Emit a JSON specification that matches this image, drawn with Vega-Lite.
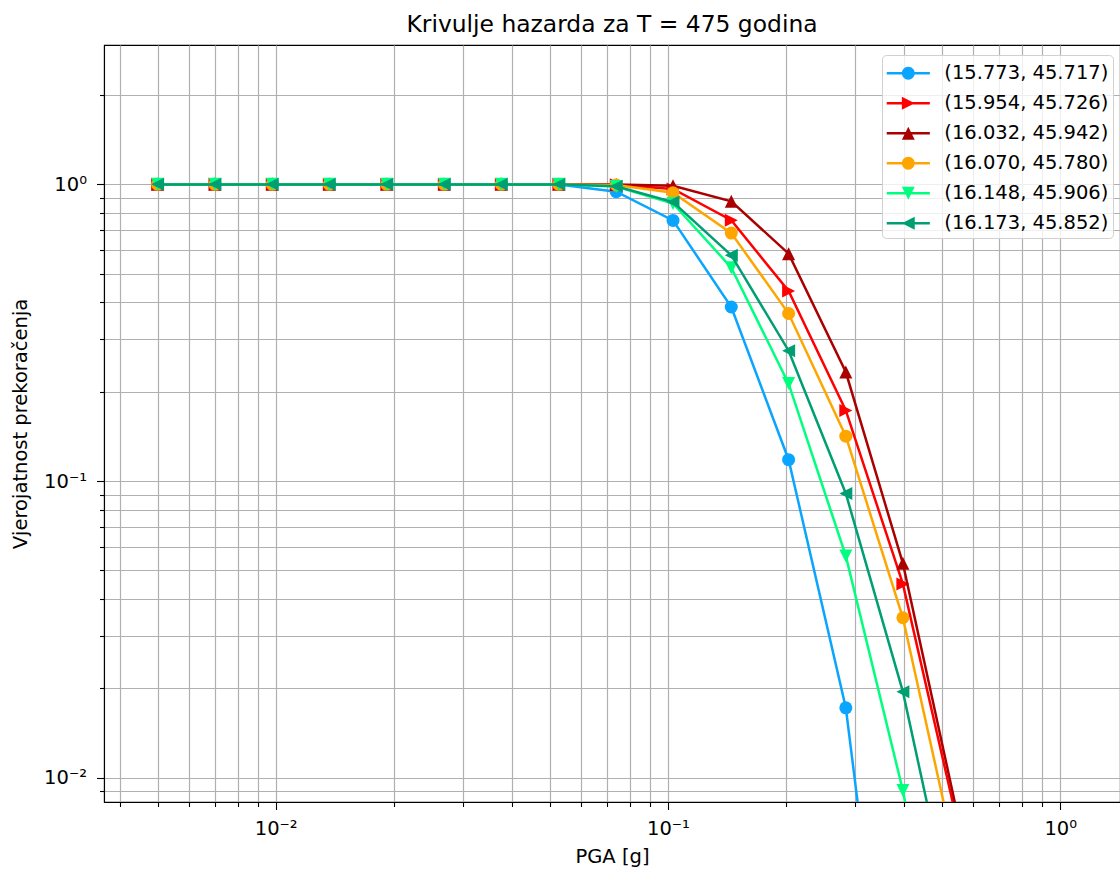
{
  "$schema": "https://vega.github.io/schema/vega-lite/v6.json",
  "width": 1016,
  "height": 757,
  "autosize": {"type": "none"},
  "padding": {"left": 104, "top": 45, "right": 0, "bottom": 69},
  "background": "white",
  "config": {"view": {"stroke": "black", "strokeWidth": 1.1}, "font": "DejaVu Sans"},
  "title": {"text": "Krivulje hazarda za T = 475 godina", "font": "DejaVu Sans", "fontSize": 23.4, "fontWeight": "normal", "color": "black", "anchor": "middle", "offset": 8},
  "data": {"values": [
    {"site": "(15.773, 45.717)", "pga": 0.005, "poe": 1}, {"site": "(15.773, 45.717)", "pga": 0.007, "poe": 1}, {"site": "(15.773, 45.717)", "pga": 0.0098, "poe": 1}, {"site": "(15.773, 45.717)", "pga": 0.0137, "poe": 1}, {"site": "(15.773, 45.717)", "pga": 0.0192, "poe": 1}, {"site": "(15.773, 45.717)", "pga": 0.0269, "poe": 1}, {"site": "(15.773, 45.717)", "pga": 0.0376, "poe": 1}, {"site": "(15.773, 45.717)", "pga": 0.0527, "poe": 0.999}, {"site": "(15.773, 45.717)", "pga": 0.0738, "poe": 0.945}, {"site": "(15.773, 45.717)", "pga": 0.103, "poe": 0.756}, {"site": "(15.773, 45.717)", "pga": 0.145, "poe": 0.386}, {"site": "(15.773, 45.717)", "pga": 0.203, "poe": 0.118}, {"site": "(15.773, 45.717)", "pga": 0.284, "poe": 0.0172}, {"site": "(15.773, 45.717)", "pga": 0.397, "poe": 0.0005},
    {"site": "(15.954, 45.726)", "pga": 0.005, "poe": 1}, {"site": "(15.954, 45.726)", "pga": 0.007, "poe": 1}, {"site": "(15.954, 45.726)", "pga": 0.0098, "poe": 1}, {"site": "(15.954, 45.726)", "pga": 0.0137, "poe": 1}, {"site": "(15.954, 45.726)", "pga": 0.0192, "poe": 1}, {"site": "(15.954, 45.726)", "pga": 0.0269, "poe": 1}, {"site": "(15.954, 45.726)", "pga": 0.0376, "poe": 1}, {"site": "(15.954, 45.726)", "pga": 0.0527, "poe": 1}, {"site": "(15.954, 45.726)", "pga": 0.0738, "poe": 0.998}, {"site": "(15.954, 45.726)", "pga": 0.103, "poe": 0.965}, {"site": "(15.954, 45.726)", "pga": 0.145, "poe": 0.757}, {"site": "(15.954, 45.726)", "pga": 0.203, "poe": 0.437}, {"site": "(15.954, 45.726)", "pga": 0.284, "poe": 0.173}, {"site": "(15.954, 45.726)", "pga": 0.397, "poe": 0.045}, {"site": "(15.954, 45.726)", "pga": 0.556, "poe": 0.0064},
    {"site": "(16.032, 45.942)", "pga": 0.005, "poe": 1}, {"site": "(16.032, 45.942)", "pga": 0.007, "poe": 1}, {"site": "(16.032, 45.942)", "pga": 0.0098, "poe": 1}, {"site": "(16.032, 45.942)", "pga": 0.0137, "poe": 1}, {"site": "(16.032, 45.942)", "pga": 0.0192, "poe": 1}, {"site": "(16.032, 45.942)", "pga": 0.0269, "poe": 1}, {"site": "(16.032, 45.942)", "pga": 0.0376, "poe": 1}, {"site": "(16.032, 45.942)", "pga": 0.0527, "poe": 1}, {"site": "(16.032, 45.942)", "pga": 0.0738, "poe": 0.999}, {"site": "(16.032, 45.942)", "pga": 0.103, "poe": 0.99}, {"site": "(16.032, 45.942)", "pga": 0.145, "poe": 0.877}, {"site": "(16.032, 45.942)", "pga": 0.203, "poe": 0.584}, {"site": "(16.032, 45.942)", "pga": 0.284, "poe": 0.233}, {"site": "(16.032, 45.942)", "pga": 0.397, "poe": 0.0528}, {"site": "(16.032, 45.942)", "pga": 0.556, "poe": 0.0068},
    {"site": "(16.070, 45.780)", "pga": 0.005, "poe": 1}, {"site": "(16.070, 45.780)", "pga": 0.007, "poe": 1}, {"site": "(16.070, 45.780)", "pga": 0.0098, "poe": 1}, {"site": "(16.070, 45.780)", "pga": 0.0137, "poe": 1}, {"site": "(16.070, 45.780)", "pga": 0.0192, "poe": 1}, {"site": "(16.070, 45.780)", "pga": 0.0269, "poe": 1}, {"site": "(16.070, 45.780)", "pga": 0.0376, "poe": 1}, {"site": "(16.070, 45.780)", "pga": 0.0527, "poe": 1}, {"site": "(16.070, 45.780)", "pga": 0.0738, "poe": 0.995}, {"site": "(16.070, 45.780)", "pga": 0.103, "poe": 0.937}, {"site": "(16.070, 45.780)", "pga": 0.145, "poe": 0.685}, {"site": "(16.070, 45.780)", "pga": 0.203, "poe": 0.367}, {"site": "(16.070, 45.780)", "pga": 0.284, "poe": 0.1416}, {"site": "(16.070, 45.780)", "pga": 0.397, "poe": 0.0346}, {"site": "(16.070, 45.780)", "pga": 0.556, "poe": 0.0046},
    {"site": "(16.148, 45.906)", "pga": 0.005, "poe": 1}, {"site": "(16.148, 45.906)", "pga": 0.007, "poe": 1}, {"site": "(16.148, 45.906)", "pga": 0.0098, "poe": 1}, {"site": "(16.148, 45.906)", "pga": 0.0137, "poe": 1}, {"site": "(16.148, 45.906)", "pga": 0.0192, "poe": 1}, {"site": "(16.148, 45.906)", "pga": 0.0269, "poe": 1}, {"site": "(16.148, 45.906)", "pga": 0.0376, "poe": 1}, {"site": "(16.148, 45.906)", "pga": 0.0527, "poe": 1}, {"site": "(16.148, 45.906)", "pga": 0.0738, "poe": 0.983}, {"site": "(16.148, 45.906)", "pga": 0.103, "poe": 0.862}, {"site": "(16.148, 45.906)", "pga": 0.145, "poe": 0.524}, {"site": "(16.148, 45.906)", "pga": 0.203, "poe": 0.213}, {"site": "(16.148, 45.906)", "pga": 0.284, "poe": 0.0559}, {"site": "(16.148, 45.906)", "pga": 0.397, "poe": 0.00905}, {"site": "(16.148, 45.906)", "pga": 0.556, "poe": 0.0009},
    {"site": "(16.173, 45.852)", "pga": 0.005, "poe": 1}, {"site": "(16.173, 45.852)", "pga": 0.007, "poe": 1}, {"site": "(16.173, 45.852)", "pga": 0.0098, "poe": 1}, {"site": "(16.173, 45.852)", "pga": 0.0137, "poe": 1}, {"site": "(16.173, 45.852)", "pga": 0.0192, "poe": 1}, {"site": "(16.173, 45.852)", "pga": 0.0269, "poe": 1}, {"site": "(16.173, 45.852)", "pga": 0.0376, "poe": 1}, {"site": "(16.173, 45.852)", "pga": 0.0527, "poe": 1}, {"site": "(16.173, 45.852)", "pga": 0.0738, "poe": 0.985}, {"site": "(16.173, 45.852)", "pga": 0.103, "poe": 0.872}, {"site": "(16.173, 45.852)", "pga": 0.145, "poe": 0.577}, {"site": "(16.173, 45.852)", "pga": 0.203, "poe": 0.275}, {"site": "(16.173, 45.852)", "pga": 0.284, "poe": 0.0908}, {"site": "(16.173, 45.852)", "pga": 0.397, "poe": 0.0195}, {"site": "(16.173, 45.852)", "pga": 0.556, "poe": 0.0025}
  ]},
  "encoding": {
    "x": {"field": "pga", "type": "quantitative",
      "scale": {"type": "log", "domain": [0.00365, 1.42], "nice": false, "zero": false},
      "axis": {"title": "PGA [g]", "titleFont": "DejaVu Sans", "titleFontSize": 19.5, "titleFontWeight": "normal", "titleColor": "black", "titlePadding": 9,
        "values": [0.004, 0.005, 0.006, 0.007, 0.008, 0.009, 0.01, 0.02, 0.03, 0.04, 0.05, 0.06, 0.07, 0.08, 0.09, 0.1, 0.2, 0.3, 0.4, 0.5, 0.6, 0.7, 0.8, 0.9, 1],
        "labelExpr": "abs(log(datum.value)/LN10 - round(log(datum.value)/LN10)) < 0.001 ? (round(log(datum.value)/LN10) == 0 ? '10⁰' : round(log(datum.value)/LN10) == -1 ? '10⁻¹' : round(log(datum.value)/LN10) == -2 ? '10⁻²' : '') : ''",
        "labelFont": "DejaVu Sans", "labelFontSize": 19.5, "labelColor": "black", "labelOverlap": false, "labelFlush": false, "labelPadding": 10,
        "tickColor": "black", "tickWidth": 1.1,
        "tickSize": {"condition": {"test": "abs(log(datum.value)/LN10 - round(log(datum.value)/LN10)) < 0.001", "value": 7.5}, "value": 4.5},
        "domainColor": "black", "domainWidth": 1.1, "grid": true, "gridColor": "#b0b0b0", "gridWidth": 1.2}},
    "y": {"field": "poe", "type": "quantitative",
      "scale": {"type": "log", "domain": [0.00828, 2.95], "nice": false, "zero": false},
      "axis": {"title": "Vjerojatnost prekoračenja", "titleFont": "DejaVu Sans", "titleFontSize": 19.5, "titleFontWeight": "normal", "titleColor": "black", "titlePadding": 13,
        "values": [0.009, 0.01, 0.02, 0.03, 0.04, 0.05, 0.06, 0.07, 0.08, 0.09, 0.1, 0.2, 0.3, 0.4, 0.5, 0.6, 0.7, 0.8, 0.9, 1, 2],
        "labelExpr": "abs(log(datum.value)/LN10 - round(log(datum.value)/LN10)) < 0.001 ? (round(log(datum.value)/LN10) == 0 ? '10⁰' : round(log(datum.value)/LN10) == -1 ? '10⁻¹' : round(log(datum.value)/LN10) == -2 ? '10⁻²' : '') : ''",
        "labelFont": "DejaVu Sans", "labelFontSize": 19.5, "labelColor": "black", "labelOverlap": false, "labelFlush": false, "labelPadding": 10,
        "tickColor": "black", "tickWidth": 1.1,
        "tickSize": {"condition": {"test": "abs(log(datum.value)/LN10 - round(log(datum.value)/LN10)) < 0.001", "value": 7.5}, "value": 4.5},
        "domainColor": "black", "domainWidth": 1.1, "grid": true, "gridColor": "#b0b0b0", "gridWidth": 1.2}}
  },
  "layer": [
    {"transform": [{"filter": {"field": "site", "equal": "(15.773, 45.717)"}}], "mark": {"type": "line", "color": "#0aa5ff", "strokeWidth": 2.5, "clip": true}},
    {"transform": [{"filter": {"field": "site", "equal": "(15.773, 45.717)"}}], "mark": {"type": "point", "shape": "circle", "filled": true, "opacity": 1, "size": 169, "color": "#0aa5ff", "clip": true}},
    {"transform": [{"filter": {"field": "site", "equal": "(15.954, 45.726)"}}], "mark": {"type": "line", "color": "#ff0000", "strokeWidth": 2.5, "clip": true}},
    {"transform": [{"filter": {"field": "site", "equal": "(15.954, 45.726)"}}], "mark": {"type": "point", "shape": "M-1,-1L1,0L-1,1Z", "filled": true, "opacity": 1, "size": 169, "color": "#ff0000", "clip": true}},
    {"transform": [{"filter": {"field": "site", "equal": "(16.032, 45.942)"}}], "mark": {"type": "line", "color": "#aa0000", "strokeWidth": 2.5, "clip": true}},
    {"transform": [{"filter": {"field": "site", "equal": "(16.032, 45.942)"}}], "mark": {"type": "point", "shape": "M0,-1L1,1L-1,1Z", "filled": true, "opacity": 1, "size": 169, "color": "#aa0000", "clip": true}},
    {"transform": [{"filter": {"field": "site", "equal": "(16.070, 45.780)"}}], "mark": {"type": "line", "color": "#ffa500", "strokeWidth": 2.5, "clip": true}},
    {"transform": [{"filter": {"field": "site", "equal": "(16.070, 45.780)"}}], "mark": {"type": "point", "shape": "circle", "filled": true, "opacity": 1, "size": 169, "color": "#ffa500", "clip": true}},
    {"transform": [{"filter": {"field": "site", "equal": "(16.148, 45.906)"}}], "mark": {"type": "line", "color": "#00ff7f", "strokeWidth": 2.5, "clip": true}},
    {"transform": [{"filter": {"field": "site", "equal": "(16.148, 45.906)"}}], "mark": {"type": "point", "shape": "M0,1L-1,-1L1,-1Z", "filled": true, "opacity": 1, "size": 169, "color": "#00ff7f", "clip": true}},
    {"transform": [{"filter": {"field": "site", "equal": "(16.173, 45.852)"}}], "mark": {"type": "line", "color": "#009e73", "strokeWidth": 2.5, "clip": true}},
    {"transform": [{"filter": {"field": "site", "equal": "(16.173, 45.852)"}}], "mark": {"type": "point", "shape": "M1,-1L1,1L-1,0Z", "filled": true, "opacity": 1, "size": 169, "color": "#009e73", "clip": true}},
    {"transform": [{"filter": "datum.poe > 100"}],
      "mark": {"type": "point", "filled": true, "opacity": 1},
      "encoding": {
        "color": {"field": "site", "type": "nominal",
          "scale": {"domain": ["(15.773, 45.717)", "(15.954, 45.726)", "(16.032, 45.942)", "(16.070, 45.780)", "(16.148, 45.906)", "(16.173, 45.852)"], "range": ["#0aa5ff", "#ff0000", "#aa0000", "#ffa500", "#00ff7f", "#009e73"]},
          "legend": {"title": null, "orient": "none", "legendX": 778, "legendY": 10, "labelFont": "DejaVu Sans", "labelFontSize": 19.5, "labelColor": "black", "labelLimit": 400, "symbolSize": 784, "symbolStrokeWidth": 0, "symbolOpacity": 1, "padding": 4.3, "rowPadding": 6, "labelOffset": 22, "symbolOffset": 8, "fillColor": "rgba(255,255,255,0.8)", "strokeColor": "#d0d0d0", "cornerRadius": 4}},
        "shape": {"field": "site", "type": "nominal",
          "scale": {"domain": ["(15.773, 45.717)", "(15.954, 45.726)", "(16.032, 45.942)", "(16.070, 45.780)", "(16.148, 45.906)", "(16.173, 45.852)"],
            "range": [
              "M-1.54,-0.09H1.54V0.09H-1.54Z M0.46,0A0.46,0.46,0,1,1,-0.46,0A0.46,0.46,0,1,1,0.46,0Z",
              "M-1.54,-0.09H1.54V0.09H-1.54Z M-0.46,-0.46L0.46,0L-0.46,0.46Z",
              "M-1.54,-0.09H1.54V0.09H-1.54Z M0,-0.46L0.46,0.46L-0.46,0.46Z",
              "M-1.54,-0.09H1.54V0.09H-1.54Z M0.46,0A0.46,0.46,0,1,1,-0.46,0A0.46,0.46,0,1,1,0.46,0Z",
              "M-1.54,-0.09H1.54V0.09H-1.54Z M0,0.46L-0.46,-0.46L0.46,-0.46Z",
              "M-1.54,-0.09H1.54V0.09H-1.54Z M0.46,-0.46L0.46,0.46L-0.46,0Z"
            ]},
          "legend": {"title": null, "orient": "none", "legendX": 778, "legendY": 10, "labelFont": "DejaVu Sans", "labelFontSize": 19.5, "labelColor": "black", "labelLimit": 400, "symbolSize": 784, "symbolStrokeWidth": 0, "symbolOpacity": 1, "padding": 4.3, "rowPadding": 6, "labelOffset": 22, "symbolOffset": 8, "fillColor": "rgba(255,255,255,0.8)", "strokeColor": "#d0d0d0", "cornerRadius": 4}}
      }}
  ]
}
